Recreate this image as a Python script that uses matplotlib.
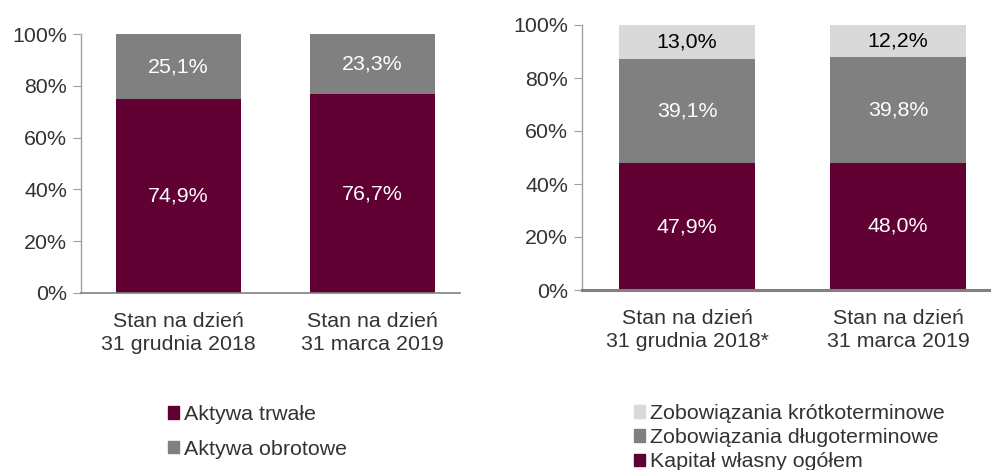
import matplotlib
matplotlib.use("Agg")
import matplotlib.pyplot as plt
from matplotlib.patches import Patch
from matplotlib.ticker import PercentFormatter

plt.rcParams['font.family'] = ['Liberation Sans', 'DejaVu Sans']

# Data
categories_left = ["Stan na dzień\n31 grudnia 2018", "Stan na dzień\n31 marca 2019"]
aktywa_trwale = [74.9, 76.7]
aktywa_obrotowe = [25.1, 23.3]

categories_right = ["Stan na dzień\n31 grudnia 2018*", "Stan na dzień\n31 marca 2019"]
kapital = [47.9, 48.0]
zob_dlugo = [39.1, 39.8]
zob_krotko = [13.0, 12.2]

yticks = [0, 20, 40, 60, 80, 100]

MAROON = "#600033"
GRAY = "#808080"
LIGHT = "#d9d9d9"
TXT = "#333333"
FS = 15.4

W, H = 991, 470
fig = plt.figure(figsize=(W / 100, H / 100), dpi=100)


def px_axes(x0, y0, x1, y1):
    return fig.add_axes([x0 / W, 1 - y1 / H, (x1 - x0) / W, (y1 - y0) / H])


def style(ax, xlim, xw):
    ax.set_ylim(0, 100)
    ax.set_xlim(*xlim)
    ax.set_yticks(yticks)
    ax.yaxis.set_major_formatter(PercentFormatter(decimals=0))
    for s in ("top", "right"):
        ax.spines[s].set_visible(False)
    ax.spines["left"].set_color("#a0a0a0")
    ax.spines["left"].set_linewidth(1)
    ax.spines["bottom"].set_color("#808080")
    ax.spines["bottom"].set_linewidth(xw)
    ax.tick_params(axis="y", length=6, color="#a0a0a0", labelsize=FS, labelcolor=TXT, pad=4)
    ax.tick_params(axis="x", length=0, labelsize=FS, labelcolor=TXT, pad=14)


def fmt(v):
    return f"{v:.1f}%".replace(".", ",")


# Left chart
ax1 = px_axes(81, 34, 460, 293)
x = list(range(len(categories_left)))
bw = 0.644
ax1.bar(x, aktywa_trwale, bw, color=MAROON)
ax1.bar(x, aktywa_obrotowe, bw, bottom=aktywa_trwale, color=GRAY)
style(ax1, (-0.503, 1.451), 1.2)
ax1.set_xticks(x)
ax1.set_xticklabels(categories_left, linespacing=1.25)
for i in x:
    ax1.text(i, aktywa_trwale[i] / 2, fmt(aktywa_trwale[i]),
             ha="center", va="center", color="white", fontsize=FS)
    ax1.text(i, aktywa_trwale[i] + aktywa_obrotowe[i] / 2, fmt(aktywa_obrotowe[i]),
             ha="center", va="center", color="white", fontsize=FS)

# Right chart
ax2 = px_axes(582, 25, 991, 290)
x2 = list(range(len(categories_right)))
bw2 = 0.645
ax2.bar(x2, kapital, bw2, color=MAROON)
bot2 = [a + b for a, b in zip(kapital, zob_dlugo)]
ax2.bar(x2, zob_dlugo, bw2, bottom=kapital, color=GRAY)
ax2.bar(x2, zob_krotko, bw2, bottom=bot2, color=LIGHT)
style(ax2, (-0.498, 1.441), 2.2)
ax2.set_xticks(x2)
ax2.set_xticklabels(categories_right, linespacing=1.22)
for i in x2:
    ax2.text(i, kapital[i] / 2, fmt(kapital[i]),
             ha="center", va="center", color="white", fontsize=FS)
    ax2.text(i, kapital[i] + zob_dlugo[i] / 2, fmt(zob_dlugo[i]),
             ha="center", va="center", color="white", fontsize=FS)
    ax2.text(i, bot2[i] + zob_krotko[i] / 2, fmt(zob_krotko[i]),
             ha="center", va="center", color="black", fontsize=FS)

# Legends
h_left = [Patch(color=MAROON, label="Aktywa trwałe"), Patch(color=GRAY, label="Aktywa obrotowe")]
fig.legend(handles=h_left, loc="upper left", bbox_to_anchor=(168 / W, 1 - 405 / H),
           frameon=False, fontsize=FS, handlelength=0.5, handleheight=0.5,
           handletextpad=0.23, labelspacing=0.73, borderaxespad=0, borderpad=0,
           labelcolor=TXT)

h_right = [Patch(color=LIGHT, label="Zobowiązania krótkoterminowe"),
           Patch(color=GRAY, label="Zobowiązania długoterminowe"),
           Patch(color=MAROON, label="Kapitał własny ogółem")]
fig.legend(handles=h_right, loc="upper left", bbox_to_anchor=(634 / W, 1 - 404 / H),
           frameon=False, fontsize=FS, handlelength=0.5, handleheight=0.5,
           handletextpad=0.23, labelspacing=0.24, borderaxespad=0, borderpad=0,
           labelcolor=TXT)

fig.savefig("out.png", dpi=100)
